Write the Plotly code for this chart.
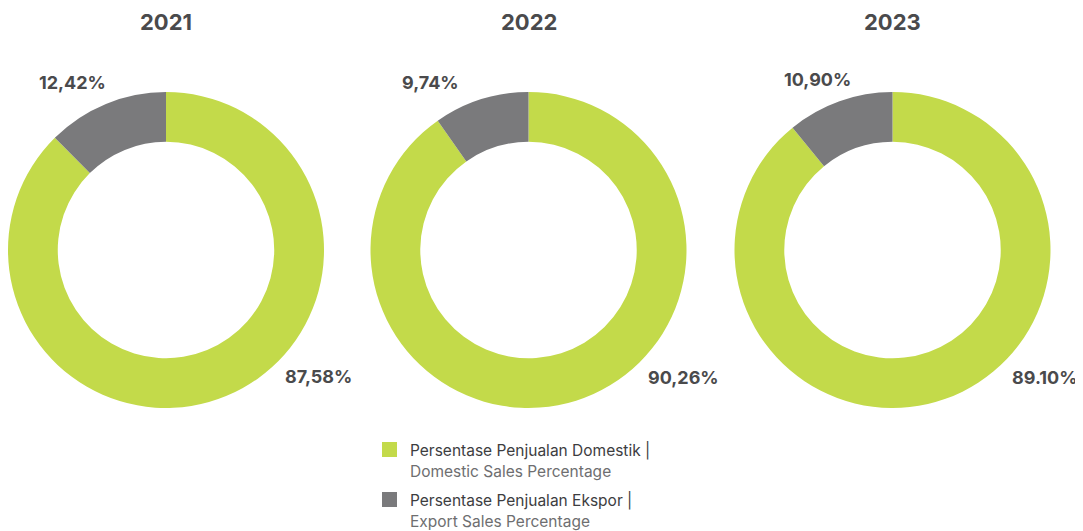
import plotly.graph_objects as go

years = ["2021", "2022", "2023"]
categories = ["Persentase Penjualan Domestik |", "Persentase Penjualan Ekspor |"]
categories_en = ["Domestic Sales Percentage", "Export Sales Percentage"]
domestic = [87.58, 90.26, 89.10]
export = [12.42, 9.74, 10.90]
domestic_labels = ["87,58%", "90,26%", "89.10%"]
export_labels = ["12,42%", "9,74%", "10,90%"]

colors = ["#c3da4a", "#7a7a7c"]
W, H = 1083, 531
OFF = 8  # page body margin
FONT = "Inter"
DARK = "#4a4a4c"


def px(x):
    return (x - OFF) / W


def py(y):
    return 1 - (y - OFF) / H


centers_x = [166, 528.5, 892.5]
center_y = 250
R = 158

fig = go.Figure()
for i, yr in enumerate(years):
    cx = centers_x[i]
    fig.add_trace(go.Pie(
        labels=categories,
        values=[domestic[i], export[i]],
        hole=0.685,
        sort=False,
        direction="clockwise",
        rotation=0,
        marker=dict(colors=colors, line=dict(width=0)),
        textinfo="none",
        hoverinfo="label+percent",
        showlegend=False,
        domain=dict(x=[px(cx - R), px(cx + R)],
                    y=[py(center_y + R), py(center_y - R)]),
    ))

ann = []
for i, yr in enumerate(years):
    ann.append(dict(x=px(centers_x[i]), y=1, xref="paper", yref="paper",
                    xanchor="center", yanchor="top", borderpad=0,
                    text="<b>" + yr + "</b>", showarrow=False,
                    font=dict(size=22, color=DARK, family=FONT)))

exp_pos = [(72, 82), (430, 82), (817, 80)]
dom_pos = [(318, 376), (683, 377), (1044, 377)]
for i in range(3):
    ann.append(dict(x=px(exp_pos[i][0]), y=py(exp_pos[i][1]), xref="paper", yref="paper",
                    xanchor="center", yanchor="middle",
                    text="<b>" + export_labels[i] + "</b>", showarrow=False,
                    font=dict(size=18, color=DARK, family=FONT)))
    ann.append(dict(x=px(dom_pos[i][0]), y=py(dom_pos[i][1]), xref="paper", yref="paper",
                    xanchor="center", yanchor="middle",
                    text="<b>" + domestic_labels[i] + "</b>", showarrow=False,
                    font=dict(size=18, color=DARK, family=FONT)))

# custom legend
shapes = []
leg_y = [450, 500]
for k in range(2):
    y0 = leg_y[k]
    shapes.append(dict(type="rect", xref="paper", yref="paper",
                       x0=px(382), x1=px(397), y0=py(y0 - 8), y1=py(y0 + 7),
                       fillcolor=colors[k], line=dict(width=0)))
    ann.append(dict(x=px(408), y=py(y0), xref="paper", yref="paper",
                    xanchor="left", yanchor="middle", showarrow=False,
                    text=categories[k],
                    font=dict(size=15.5, color="#3d3d3f", family=FONT)))
    ann.append(dict(x=px(408), y=py(y0 + 21.5), xref="paper", yref="paper",
                    xanchor="left", yanchor="middle", showarrow=False,
                    text=categories_en[k],
                    font=dict(size=15.5, color="#6e6e70", family=FONT)))

fig.update_layout(
    width=W, height=H,
    margin=dict(l=0, r=0, t=0, b=0),
    paper_bgcolor="white", plot_bgcolor="white",
    annotations=ann,
    shapes=shapes,
    showlegend=False,
)

fig.write_html("out.html")
